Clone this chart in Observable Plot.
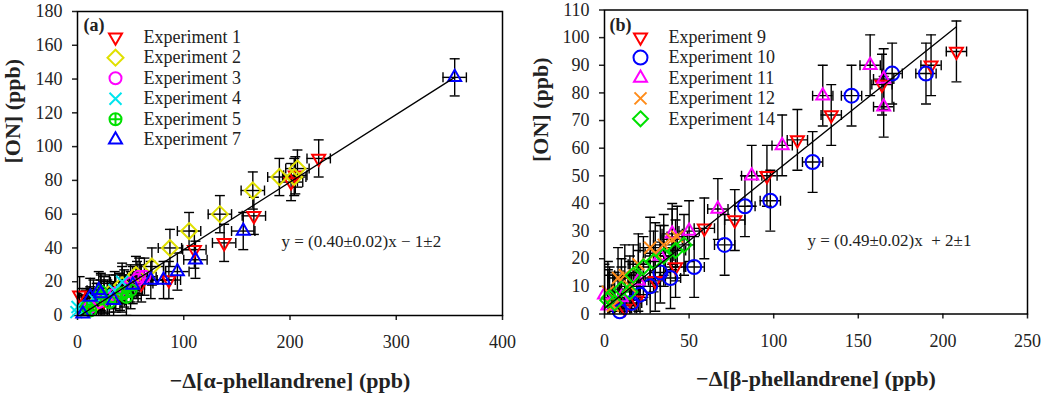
<!DOCTYPE html>
<html><head><meta charset="utf-8">
<script src="https://cdn.jsdelivr.net/npm/d3@7"></script>
<script src="https://cdn.jsdelivr.net/npm/@observablehq/plot@0.6"></script>
<style>
html,body{margin:0;padding:0;background:#fff;}
#wrap{display:flex;width:1044px;height:394px;overflow:hidden;}
svg{display:block;}
g[aria-label$="tick"] path, g[aria-label$="tick"] line {stroke-width:1.5;}
</style></head><body><div id="wrap"></div>
<script>
// ---------- Panel (a) data: [-Δ[α-phellandrene], [ON]] ----------
const namesA = ["Experiment 1","Experiment 2","Experiment 3","Experiment 4","Experiment 5","Experiment 7"];
const exp1 = [[227,93],[201,79],[205,83],[166,59],[138,43],[110,39],[86,21],[60,19],[40,14],[25,9],[12,6],[2,12]];
const exp2 = [[207,87],[204,82],[190,82],[165,74],[134,60],[105,50],[87,40],[70,29],[55,24],[42,18],[30,13],[18,8]];
const exp3 = [[58,23],[63,23],[56,21],[50,19],[44,16],[36,13],[28,10],[20,8],[12,5]];
const exp4 = [[-1,2],[0,5],[15,10],[35,15],[42,20],[25,12],[8,4]];
const exp5 = [[9,5],[12,3],[22,10],[22,14],[42,13],[46,11],[30,8],[50,15]];
const exp7 = [[355,141],[156,50],[111,33],[94,26],[81,21],[69,21],[52,18],[34,9],[22,13],[20,15],[12,11],[5,1]];
const errA = [11, 11];            // ± x error, ± y error (ppb)
const fitA = [0.40, -1, 2.5, 355]; // slope, intercept, x start, x end
const xTicksA = [0,100,200,300,400];
const yTicksA = [0,20,40,60,80,100,120,140,160,180];
const eqA = "y = (0.40±0.02)x \u2212 1±2";

// ---------- Panel (b) data: [-Δ[β-phellandrene], [ON]] ----------
const namesB = ["Experiment 9","Experiment 10","Experiment 11","Experiment 12","Experiment 14"];
const exp9  = [[208,95],[193,90],[164,83],[134,72],[114,63],[96,50],[77,34],[59,31],[42,17],[30,12],[19,5],[12,2],[5,4]];
const exp10 = [[190,87],[170,87],[146,79],[123,55],[98,41],[83,39],[71,25],[53,17],[39,13],[33,15],[27,10],[21,7],[16,4],[9,1]];
const exp11 = [[157,90],[165,85],[165,75],[129,79],[105,61],[87,50],[67,38],[50,30],[40,29],[33,21],[20,12],[10,6],[2,3],[0,7]];
const exp12 = [[43,28],[40,27],[27,24],[20,18],[12,14],[8,13],[2,8],[5,3],[15,10],[30,22],[35,25]];
const exp14 = [[47,25],[42,23],[35,21],[29,19],[23,17],[17,14],[15,8],[10,9],[6,4],[3,6],[2,5]];
const errB = [6, 11];
const fitB = [0.49, 2, 0, 208];
const xTicksB = [0,50,100,150,200,250];
const yTicksB = [0,10,20,30,40,50,60,70,80,90,100,110];
const eqB = "y = (0.49±0.02)x  + 2±1";

// ---------- symbols ----------
function sym(kind){
  return {draw(ctx, size){
    const r = Math.sqrt(size/Math.PI);
    const h = r*Math.sqrt(3);
    switch(kind){
      case "down": ctx.moveTo(-r,-h/3); ctx.lineTo(r,-h/3); ctx.lineTo(0,2*h/3); ctx.closePath(); break;
      case "up": ctx.moveTo(-r,h/3); ctx.lineTo(r,h/3); ctx.lineTo(0,-2*h/3); ctx.closePath(); break;
      case "diamond": ctx.moveTo(0,-r); ctx.lineTo(r,0); ctx.lineTo(0,r); ctx.lineTo(-r,0); ctx.closePath(); break;
      case "circle": ctx.moveTo(r,0); ctx.arc(0,0,r,0,2*Math.PI); break;
      case "times": ctx.moveTo(-r,-r); ctx.lineTo(r,r); ctx.moveTo(-r,r); ctx.lineTo(r,-r); break;
      case "circleplus": ctx.moveTo(r,0); ctx.arc(0,0,r,0,2*Math.PI); ctx.moveTo(-r,0); ctx.lineTo(r,0); ctx.moveTo(0,-r); ctx.lineTo(0,r); break;
      case "capH": ctx.moveTo(-r,0); ctx.lineTo(r,0); break;
      case "capV": ctx.moveTo(0,-r); ctx.lineTo(0,r); break;
    }
  }};
}

const FONT = "'Liberation Serif','Times New Roman',serif";

function panel(cfg){
  const {series, err, fit, xDomain, yDomain, xTicks, yTicks, width, margins, eq, tag, xlabel, leg} = cfg;
  const [ex, ey] = err;
  const all = series.flatMap(s => s.data);
  const marks = [];
  const bar = {stroke:"black", strokeWidth:1.4, clip:true};
  // error bars
  marks.push(Plot.ruleX(all, {x: d=>d[0], y1: d=>d[1]-ey, y2: d=>d[1]+ey, ...bar}));
  marks.push(Plot.ruleY(all, {y: d=>d[1], x1: d=>d[0]-ex, x2: d=>d[0]+ex, ...bar}));
  marks.push(Plot.dot(all, {x: d=>d[0], y: d=>d[1]+ey, symbol: sym("capH"), r:5, ...bar}));
  marks.push(Plot.dot(all, {x: d=>d[0], y: d=>d[1]-ey, symbol: sym("capH"), r:5, ...bar}));
  marks.push(Plot.dot(all, {x: d=>d[0]-ex, y: d=>d[1], symbol: sym("capV"), r:5, ...bar}));
  marks.push(Plot.dot(all, {x: d=>d[0]+ex, y: d=>d[1], symbol: sym("capV"), r:5, ...bar}));
  // markers
  for (const s of series) {
    marks.push(Plot.dot(s.data, {x: d=>d[0], y: d=>d[1], symbol: sym(s.symbol), r: s.r, stroke: s.color, fill:"none", strokeWidth:2}));
  }
  // regression line
  const [m, b, x0, x1] = fit;
  marks.push(Plot.line([x0, x1], {x: d=>d, y: d=>m*d+b, stroke:"black", strokeWidth:1.3}));
  // legend
  series.forEach((s, i) => {
    marks.push(Plot.dot([0], {frameAnchor:"top-left", dx: leg.mx, dy: leg.y0 + leg.step*i, symbol: sym(s.symbol), r: s.r, stroke: s.color, fill:"none", strokeWidth:2}));
    marks.push(Plot.text([s.name], {frameAnchor:"top-left", lineAnchor:"middle", dx: leg.tx, dy: leg.y0 + leg.step*i, text: d=>d, textAnchor:"start", fontSize:18, fill:"#222"}));
  });
  marks.push(Plot.text([tag], {frameAnchor:"top-left", lineAnchor:"middle", dx: leg.tagx, dy: leg.tagy, text: d=>d, textAnchor:"start", fontSize:18, fontWeight:"bold"}));
  marks.push(Plot.text([eq], {frameAnchor:"top-left", lineAnchor:"middle", dx: leg.eqx, dy: leg.eqy, text: d=>d, textAnchor:"start", fontSize:17, fill:"#222"}));
  // axis labels
  marks.push(Plot.text([xlabel], {frameAnchor:"bottom", lineAnchor:"middle", dy: leg.xl, text: d=>d, fontSize:22, fontWeight:"bold"}));
  marks.push(Plot.text(["[ON] (ppb)"], {frameAnchor:"left", lineAnchor:"middle", dx: leg.yl, rotate:-90, text: d=>d, fontSize:22, fontWeight:"bold"}));
  marks.push(Plot.frame({stroke:"black", strokeWidth:1.5}));
  return Plot.plot({
    width, height: 394,
    marginLeft: margins[0], marginRight: margins[1], marginTop: margins[2], marginBottom: margins[3],
    style: {fontFamily: FONT, fontSize: "18px", background: "#fff", color: "#222", overflow: "visible"},
    x: {domain: xDomain, ticks: xTicks, tickSize: 5, tickPadding: 15, label: null, tickFormat: d=>String(d)},
    y: {domain: yDomain, ticks: yTicks, tickSize: 5, tickPadding: 10, label: null, tickFormat: d=>String(d)},
    marks
  });
}

const pa = panel({
  series: [
    {name: namesA[0], data: exp1, symbol:"down", r:6.5, color:"#ff0000"},
    {name: namesA[1], data: exp2, symbol:"diamond", r:8, color:"#e0e000"},
    {name: namesA[2], data: exp3, symbol:"circle", r:6, color:"#ff00ff"},
    {name: namesA[3], data: exp4, symbol:"times", r:6, color:"#00e5ee"},
    {name: namesA[4], data: exp5, symbol:"circleplus", r:6, color:"#00e000"},
    {name: namesA[5], data: exp7, symbol:"up", r:6.5, color:"#0000ff"}
  ],
  err: errA, fit: fitA, xDomain:[0,400], yDomain:[0,180], xTicks: xTicksA, yTicks: yTicksA,
  width: 520, margins: [77, 18, 11, 79], eq: eqA, tag: "(a)",
  xlabel: "\u2212\u0394[\u03b1-phellandrene] (ppb)",
  leg: {mx: 38, tx: 66, y0: 25.7, step: 20.5, tagx: 6, tagy: 14, eqx: 204, eqy: 230, xl: 65, yl: -65}
});
const pb = panel({
  series: [
    {name: namesB[0], data: exp9, symbol:"down", r:6.5, color:"#ff0000"},
    {name: namesB[1], data: exp10, symbol:"circle", r:7, color:"#0000ff"},
    {name: namesB[2], data: exp11, symbol:"up", r:6.5, color:"#ff00ff"},
    {name: namesB[3], data: exp12, symbol:"times", r:6, color:"#ff8c1a"},
    {name: namesB[4], data: exp14, symbol:"diamond", r:7.5, color:"#00e000"}
  ],
  err: errB, fit: fitB, xDomain:[0,250], yDomain:[0,110], xTicks: xTicksB, yTicks: yTicksB,
  width: 524, margins: [84, 17, 9.5, 80.5], eq: eqB, tag: "(b)",
  xlabel: "\u2212\u0394[\u03b2-phellandrene] (ppb)",
  leg: {mx: 36, tx: 64, y0: 27.2, step: 20.4, tagx: 5, tagy: 15.5, eqx: 203, eqy: 230.5, xl: 64.5, yl: -64}
});
document.getElementById("wrap").append(pa, pb);
</script>
</body></html>
